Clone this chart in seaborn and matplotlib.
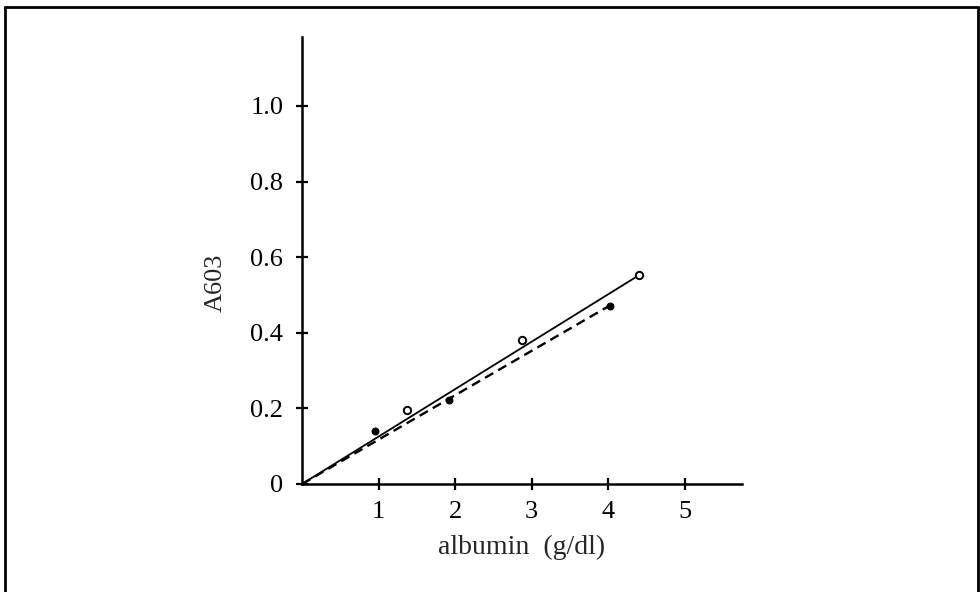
import numpy as np
import pandas as pd
import matplotlib.pyplot as plt
import seaborn as sns
from matplotlib.lines import Line2D

# values
filled_albumin = [0.95, 1.92, 4.02]
filled_a603 = [0.14, 0.222, 0.472]
open_albumin = [1.37, 2.88, 4.40]
open_a603 = [0.195, 0.382, 0.552]

solid_fit_x = [0.0, 4.40]
solid_fit_y = [0.0, 0.552]
dashed_fit_x = [0.0, 4.02]
dashed_fit_y = [0.0, 0.472]

x_ticks = [1, 2, 3, 4, 5]
y_ticks = [0, 0.2, 0.4, 0.6, 0.8, 1.0]
y_ticklabels = ["0", "0.2", "0.4", "0.6", "0.8", "1.0"]

sns.set_style("ticks")
plt.rcParams["font.family"] = ["Liberation Serif", "DejaVu Serif"]

fig = plt.figure(figsize=(9.8, 5.92), dpi=100)
ax = fig.add_axes([0.3082, 1 - 484 / 592, 0.4490, (484 - 37) / 592])

sns.lineplot(x=dashed_fit_x, y=dashed_fit_y, color="black", linewidth=1.7,
             dashes=False, linestyle=(0, (4, 2.4)), ax=ax)
sns.lineplot(x=solid_fit_x, y=solid_fit_y, color="black", linewidth=1.3, ax=ax)

filled = pd.DataFrame({"albumin": filled_albumin, "A603": filled_a603})
empty = pd.DataFrame({"albumin": open_albumin, "A603": open_a603})
sns.scatterplot(data=filled, x="albumin", y="A603", color="black", s=24,
                edgecolor="black", linewidth=0.8, zorder=4, ax=ax)
sns.scatterplot(data=empty, x="albumin", y="A603", facecolor="white", s=28,
                edgecolor="black", linewidth=1.4, zorder=4, ax=ax)

ax.set_xlim(0, 5.75)
ax.set_ylim(0, (484 - 37) / 378)
ax.set_xticks(x_ticks)
ax.set_xticklabels([str(t) for t in x_ticks])
ax.set_yticks(y_ticks)
ax.set_yticklabels(y_ticklabels)
ax.tick_params(axis="both", direction="inout", length=9, width=1.6,
               labelsize=19, colors="black")
ax.tick_params(axis="x", pad=8)
ax.tick_params(axis="y", pad=9)
for side in ["top", "right"]:
    ax.spines[side].set_visible(False)
for side in ["left", "bottom"]:
    ax.spines[side].set_linewidth(1.8)
    ax.spines[side].set_color("black")

ax.set_xlabel("albumin  (g/dl)", fontsize=20, labelpad=8)
ax.set_ylabel("A603", fontsize=19)
ax.yaxis.set_label_coords(-0.172, 0.45)

# outer frame of the figure
frame_kw = dict(color="black", linewidth=2, transform=fig.transFigure)
fig.add_artist(Line2D([5 / 980, 5 / 980], [1 - 7 / 592, 0], **frame_kw))
fig.add_artist(Line2D([5 / 980, 978 / 980], [1 - 7 / 592, 1 - 7 / 592], **frame_kw))
fig.add_artist(Line2D([978 / 980, 978 / 980], [1 - 7 / 592, 0], **frame_kw))

plt.savefig("out.png", dpi=100)
